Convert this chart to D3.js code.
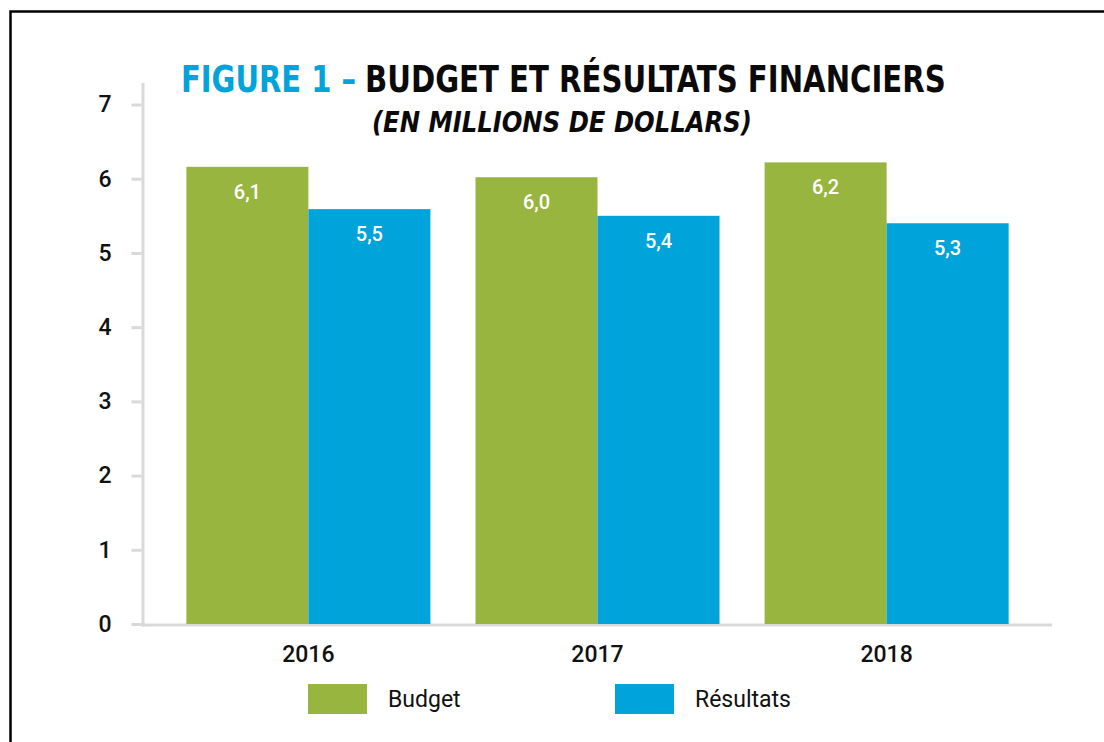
<!DOCTYPE html>
<html>
<head>
<meta charset="utf-8">
<script src="https://cdn.jsdelivr.net/npm/d3@7"></script>
<style>
  html, body { margin: 0; padding: 0; background: #ffffff; }
  svg { display: block; }
</style>
</head>
<body>
<svg id="chart" width="1104" height="742"></svg>
<script>
const years = ["2016", "2017", "2018"];
const seriesNames = ["Budget", "Résultats"];
const budgetValues = [6.16, 6.02, 6.22];
const resultValues = [5.59, 5.50, 5.40];
const budgetLabels = ["6,1", "6,0", "6,2"];
const resultLabels = ["5,5", "5,4", "5,3"];
const yTicks = [0, 1, 2, 3, 4, 5, 6, 7];
const colors = ["#98b540", "#00a3da"];

const svg = d3.select("#chart");
const W = 1104, H = 742;

svg.append("rect").attr("width", W).attr("height", H).attr("fill", "#ffffff");

// frame
svg.append("path")
  .attr("d", `M10.5,${H + 5} L10.5,11.5 L${W + 5},11.5`)
  .attr("fill", "none").attr("stroke", "#000").attr("stroke-width", 2.5);

const axisX = 143;
const plotRight = 1052;
const y = d3.scaleLinear().domain([0, 7]).range([624, 104.5]);

const x0 = d3.scaleBand().domain(years).range([axisX, plotRight])
  .paddingInner(0.156).paddingOuter(0.15);
const x1 = d3.scaleBand().domain(seriesNames).range([0, x0.bandwidth()]).padding(0);

// axis lines
svg.append("line").attr("x1", axisX).attr("x2", axisX).attr("y1", 83).attr("y2", 626.5)
  .attr("stroke", "#d9d9d9").attr("stroke-width", 3);
svg.append("line").attr("x1", axisX - 1.5).attr("x2", plotRight).attr("y1", 625).attr("y2", 625)
  .attr("stroke", "#d9d9d9").attr("stroke-width", 3);

// y axis
const yAxis = d3.axisLeft(y).tickValues(yTicks).tickSize(10).tickSizeOuter(0).tickPadding(20)
  .tickFormat(d3.format("d"));
const gy = svg.append("g").attr("transform", `translate(${axisX - 1.5},0)`).call(yAxis);
gy.select(".domain").remove();
gy.selectAll(".tick line").attr("stroke", "#d9d9d9").attr("stroke-width", 3);
gy.selectAll(".tick text")
  .attr("font-family", "Roboto, sans-serif").attr("font-size", 23).attr("font-weight", 500)
  .attr("fill", "#111");

// bars
const rows = years.map((yr, i) => ({
  year: yr,
  items: [
    { s: seriesNames[0], v: budgetValues[i], label: budgetLabels[i], c: colors[0] },
    { s: seriesNames[1], v: resultValues[i], label: resultLabels[i], c: colors[1] }
  ]
}));

const groups = svg.append("g").selectAll("g").data(rows).join("g")
  .attr("transform", d => `translate(${x0(d.year)},0)`);

groups.selectAll("rect").data(d => d.items).join("rect")
  .attr("x", d => x1(d.s))
  .attr("width", x1.bandwidth())
  .attr("y", d => y(d.v))
  .attr("height", d => y(0) - y(d.v))
  .attr("fill", d => d.c);

groups.selectAll("text").data(d => d.items).join("text")
  .attr("x", d => x1(d.s) + x1.bandwidth() / 2)
  .attr("y", d => y(d.v) + 32)
  .attr("text-anchor", "middle")
  .attr("font-family", "Roboto, sans-serif")
  .attr("font-size", 20)
  .attr("font-weight", 500)
  .attr("fill", "#ffffff")
  .text(d => d.label);

// x labels
svg.append("g").selectAll("text").data(years).join("text")
  .attr("x", d => x0(d) + x0.bandwidth() / 2)
  .attr("y", 662)
  .attr("text-anchor", "middle")
  .attr("font-family", "Roboto, sans-serif")
  .attr("font-size", 23)
  .attr("font-weight", 500)
  .attr("fill", "#111")
  .text(d => d);

// legend
const legendX = [308, 615];
const lg = svg.append("g").selectAll("g").data(seriesNames).join("g")
  .attr("transform", (d, i) => `translate(${legendX[i]},684)`);
lg.append("rect").attr("width", 59).attr("height", 30).attr("fill", (d, i) => colors[i]);
lg.append("text").attr("x", 80).attr("y", 23)
  .attr("font-family", "Roboto, sans-serif").attr("font-size", 23).attr("fill", "#111")
  .text(d => d);

// title: text squeezed horizontally to fit target widths
const titleFont = "'DejaVu Sans Condensed', 'DejaVu Sans', sans-serif";
function fitText(str, x, yb, width, size, color, italic) {
  const t = svg.append("text")
    .attr("font-family", titleFont).attr("font-weight", "bold").attr("font-size", size)
    .attr("font-style", italic ? "italic" : "normal")
    .attr("fill", color).text(str);
  const w = t.node().getComputedTextLength();
  t.attr("transform", `translate(${x},${yb}) scale(${width / w},1)`);
  return t;
}
fitText("FIGURE 1 –", 181, 92, 175, 38, "#00a3da", false);
fitText("BUDGET ET RÉSULTATS FINANCIERS", 365, 92, 581, 38, "#0a0a0a", false);
fitText("(EN MILLIONS DE DOLLARS)", 372, 132, 380, 28, "#0a0a0a", true);
</script>
</body>
</html>
